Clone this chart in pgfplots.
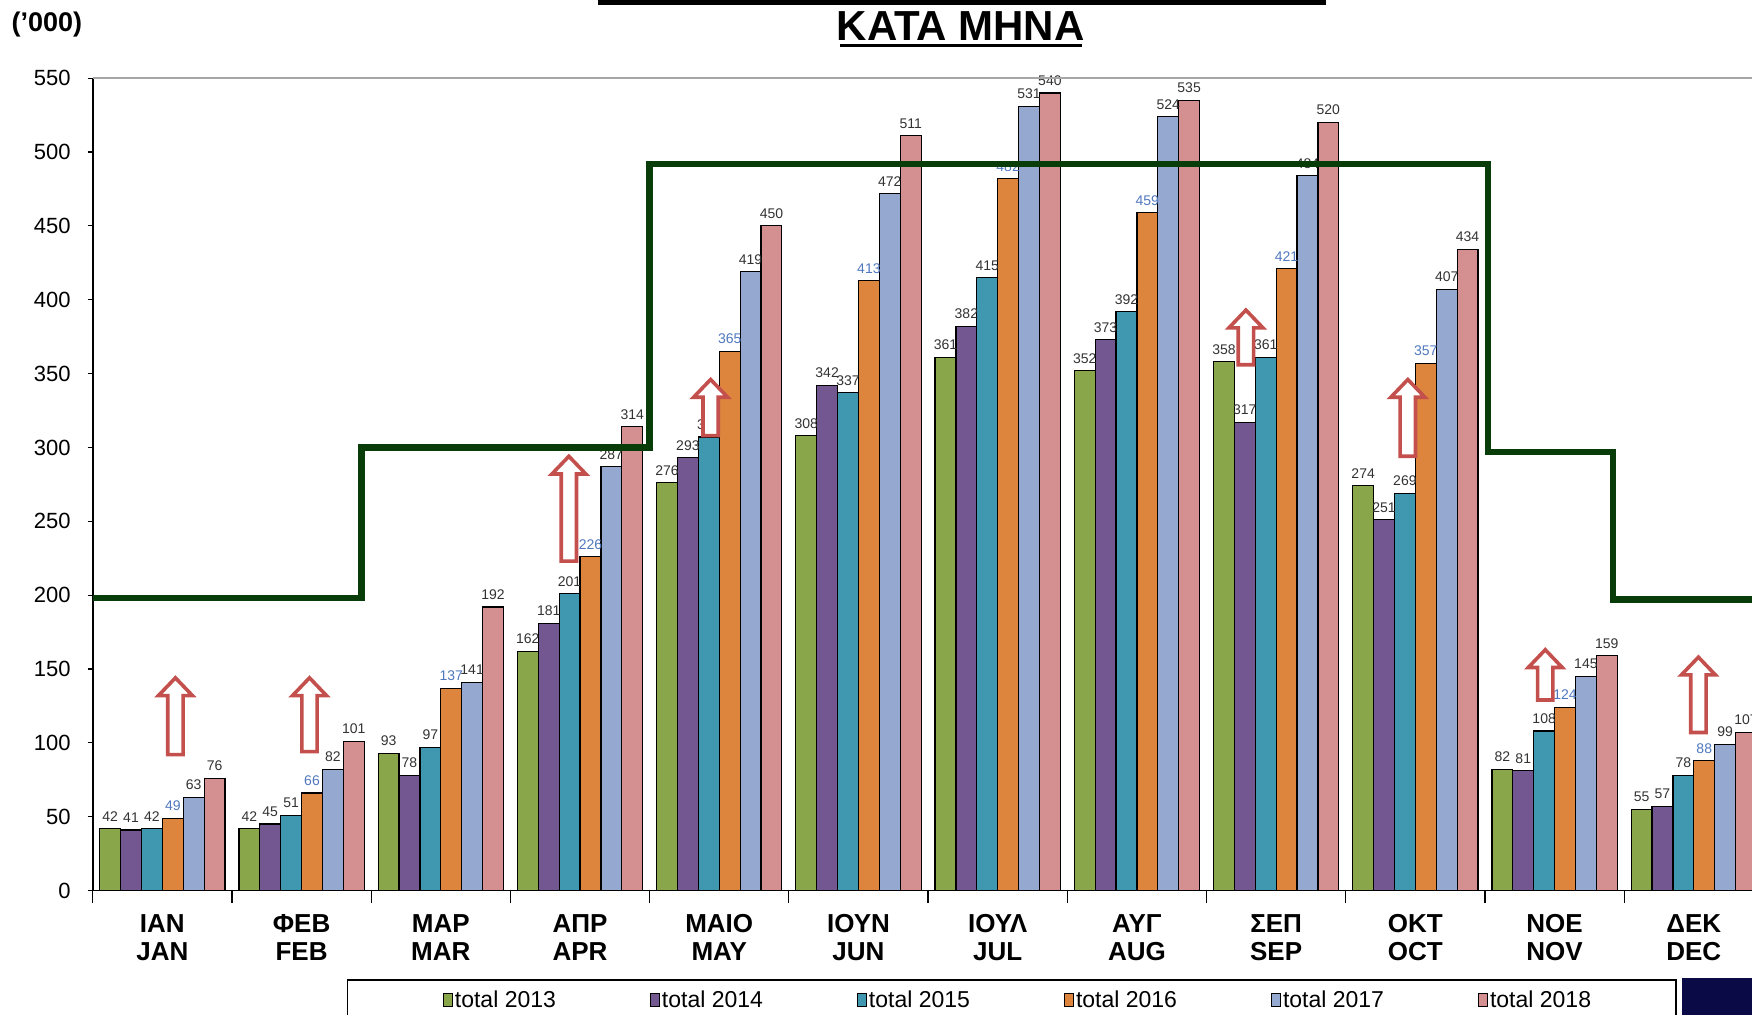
\documentclass[border=0pt]{standalone}
\usepackage{pgfplots}
\pgfplotsset{compat=1.18}
\usepackage{pgfplotstable}
\usepackage{fontspec}
\setmainfont{Liberation Sans}

\definecolor{c13}{RGB}{138,166,74}
\definecolor{c14}{RGB}{115,87,145}
\definecolor{c15}{RGB}{64,152,176}
\definecolor{c16}{RGB}{221,133,60}
\definecolor{c17}{RGB}{149,169,208}
\definecolor{c18}{RGB}{212,144,145}
\definecolor{lgreen}{RGB}{8,60,8}
\definecolor{arrowred}{RGB}{196,80,77}
\definecolor{lblue}{RGB}{79,119,190}
\definecolor{lgray}{RGB}{50,50,50}
\definecolor{navy}{RGB}{10,10,70}

\pgfplotstableread{
x y13 y14 y15 y16 y17 y18
0 42 41 42 49 63 76
1 42 45 51 66 82 101
2 93 78 97 137 141 192
3 162 181 201 226 287 314
4 276 293 307 365 419 450
5 308 342 337 413 472 511
6 361 382 415 482 531 540
7 352 373 392 459 524 535
8 358 317 361 421 484 520
9 274 251 269 357 407 434
10 82 81 108 124 145 159
11 55 57 78 88 99 107
}\data

\newcommand{\uparr}[3]{%
 \pgfmathsetmacro\xa{#1-0.055}\pgfmathsetmacro\xb{#1+0.055}%
 \pgfmathsetmacro\xc{#1-0.122}\pgfmathsetmacro\xd{#1+0.122}%
 \pgfmathsetmacro\ys{#3-12}%
 \edef\tmp{\noexpand\draw[arrowred,line width=1.8pt,fill=white,line join=miter] (axis cs:\xa,#2) -- (axis cs:\xa,\ys) -- (axis cs:\xc,\ys) -- (axis cs:#1,#3) -- (axis cs:\xd,\ys) -- (axis cs:\xb,\ys) -- (axis cs:\xb,#2) -- cycle;}\tmp}

\pgfplotsset{
 mybar/.style={ybar, bar width=0.15, bar shift=0pt, draw=black, line width=0.6pt,
   legend image code/.code={\draw[##1, line width=0.5pt] (0pt,-3pt) rectangle (4.5pt,3.5pt);}},
 lab/.style={ybar, bar width=0.15, bar shift=0pt, draw=none, fill=none, forget plot,
   nodes near coords, nodes near coords style={font=\fontsize{7}{8}\selectfont, text=#1, inner sep=1pt, yshift=2.5pt}},
}

\begin{document}
\begin{tikzpicture}
\path[use as bounding box] (-46.37pt,-61.75pt) rectangle (829.63pt,445.25pt);
\clip (-46.37pt,-61.75pt) rectangle (829.63pt,445.25pt);
\begin{axis}[
 at={(0pt,0pt)}, anchor=south west,
 scale only axis, width=829.63pt, height=406.15pt,
 xmin=-0.5, xmax=11.418, ymin=0, ymax=550,
 axis lines*=left,
 axis line style={line width=0.8pt},
 ytick={0,50,...,550},
 xtick={0,...,11},
 xticklabels={{ΙΑΝ\\JAN},{ΦΕΒ\\FEB},{ΜΑΡ\\MAR},{ΑΠΡ\\APR},{ΜΑΙΟ\\MAY},{ΙΟΥΝ\\JUN},{ΙΟΥΛ\\JUL},{ΑΥΓ\\AUG},{ΣΕΠ\\SEP},{ΟΚΤ\\OCT},{ΝΟΕ\\NOV},{ΔΕΚ\\DEC}},
 minor xtick={-0.5,0.5,...,11.5},
 tick align=outside,
 major tick length=2.5pt, minor tick length=6pt,
 major x tick style={draw=none},
 tick style={black, line width=0.6pt},
 yticklabel style={font=\fontsize{11}{13}\selectfont, xshift=-5pt},
 xticklabel style={font=\bfseries\fontsize{13}{14}\selectfont, align=center, yshift=-6pt},
 /pgf/number format/assume math mode=true,
 clip mode=individual,
 legend columns=6,
 legend cell align=left,
 legend style={at={(axis description cs:0.2108,-0.1355)}, anchor=west, draw=none, fill=none, inner sep=0pt,
   font=\fontsize{11.5}{13}\selectfont, /tikz/every even column/.append style={column sep=46pt}, nodes={inner xsep=1pt}},
]
\addplot[mybar, fill=c13] table[x expr=\thisrow{x}-0.375, y=y13]{\data};
\addplot[mybar, fill=c14] table[x expr=\thisrow{x}-0.225, y=y14]{\data};
\addplot[mybar, fill=c15] table[x expr=\thisrow{x}-0.075, y=y15]{\data};
\addplot[mybar, fill=c16] table[x expr=\thisrow{x}+0.075, y=y16]{\data};
\addplot[mybar, fill=c17] table[x expr=\thisrow{x}+0.225, y=y17]{\data};
\addplot[mybar, fill=c18] table[x expr=\thisrow{x}+0.375, y=y18]{\data};
\legend{total 2013,total 2014,total 2015,total 2016,total 2017,total 2018}

\addplot[lab=lgray] table[x expr=\thisrow{x}-0.375, y=y13]{\data};
\addplot[lab=lgray] table[x expr=\thisrow{x}-0.225, y=y14]{\data};
\addplot[lab=lgray] table[x expr=\thisrow{x}-0.075, y=y15]{\data};
\addplot[lab=lblue] table[x expr=\thisrow{x}+0.075, y=y16]{\data};
\addplot[lab=lgray] table[x expr=\thisrow{x}+0.225, y=y17]{\data};
\addplot[lab=lgray] table[x expr=\thisrow{x}+0.375, y=y18]{\data};

\addplot[lgreen, line width=3.2pt, mark=none, forget plot, line join=miter] coordinates {
(-0.5,198) (1.43,198) (1.43,300) (3.5,300) (3.5,492) (9.52,492) (9.52,297) (10.42,297) (10.42,197) (11.5,197)};

\draw[gray!70, line width=0.8pt] (axis cs:-0.5,550) -- (axis cs:11.5,550);

\uparr{0.094}{92}{144}
\uparr{1.057}{94}{144}
\uparr{2.92}{223}{294}
\uparr{3.938}{308}{346}
\uparr{7.783}{356}{393}
\uparr{8.946}{294}{346}
\uparr{9.933}{129}{163}
\uparr{11.033}{107}{158}
\end{axis}
% legend box and decoration
\draw[black, line width=0.8pt] (127.4pt,-80pt) -- (127.4pt,-44.7pt) -- (791.7pt,-44.7pt) -- (791.7pt,-80pt);
\fill[navy] (794.5pt,-43.6pt) rectangle (840pt,-80pt);
% title
\draw[black, line width=2.5pt] (252.5pt,444.2pt) -- (616.8pt,444.2pt);
\node[anchor=base, inner sep=0pt, font=\bfseries\fontsize{21}{24}\selectfont] at (434pt,425.1pt) {ΚΑΤΑ ΜΗΝΑ};
\draw[black, line width=1.7pt] (373.8pt,422.6pt) -- (494.4pt,422.6pt);
\node[anchor=base west, inner sep=0pt, font=\bfseries\fontsize{13.5}{15}\selectfont] at (-40.8pt,429.6pt) {('000)};
\end{tikzpicture}
\end{document}
